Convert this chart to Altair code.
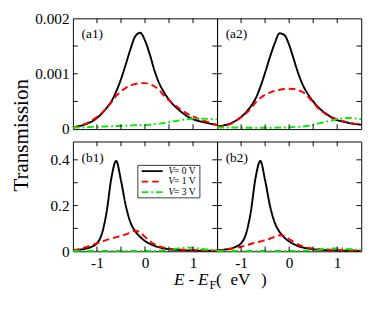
import altair as alt
import pandas as pd

# ---------------- data ----------------
E = [-1.5, -1.4, -1.3, -1.2, -1.1, -1.0, -0.9, -0.8, -0.7, -0.6, -0.5,
     -0.4, -0.3, -0.2, -0.1, 0.0, 0.1, 0.2, 0.3, 0.4, 0.5,
     0.6, 0.7, 0.8, 0.9, 1.0, 1.1, 1.2, 1.3, 1.4, 1.5]

SERIES = ["V = 0 V", "V = 1 V", "V = 3 V"]
COLORS = ["#000000", "#ff0000", "#00ee00"]
DASHES = [[1, 0], [7, 4], [7, 3, 2, 3]]

# panel (a1)
A1_V0 = [0.00003, 0.00005, 0.00007, 0.00010, 0.00014, 0.00020, 0.00028, 0.00038, 0.00050, 0.00068, 0.00090,
         0.00117, 0.00145, 0.00168, 0.00174, 0.00160, 0.00135, 0.00105, 0.00082, 0.00066, 0.00053,
         0.00043, 0.00035, 0.00028, 0.00022, 0.00018, 0.00015, 0.00013, 0.00011, 0.00009, 0.00008]
A1_V1 = [0.00003, 0.00005, 0.00008, 0.00011, 0.00016, 0.00022, 0.00029, 0.00038, 0.00048, 0.00060, 0.00068,
         0.000745, 0.00079, 0.000815, 0.00083, 0.00083, 0.00081, 0.00077, 0.00070, 0.00060, 0.00052,
         0.00045, 0.00038, 0.00032, 0.00027, 0.00023, 0.00019, 0.00016, 0.00013, 0.00010, 0.00007]
A1_V3 = [0.00003, 0.00003, 0.00003, 0.000035, 0.00004, 0.00004, 0.000045, 0.00005, 0.00005, 0.000055, 0.00006,
         0.00006, 0.000065, 0.00007, 0.00007, 0.000075, 0.00008, 0.00009, 0.00010, 0.00011, 0.000125,
         0.00014, 0.000155, 0.00017, 0.00018, 0.00019, 0.000195, 0.00019, 0.000185, 0.00018, 0.000175]

# panel (a2)
A2_V0 = [0.00005, 0.00006, 0.00008, 0.00011, 0.00016, 0.00022, 0.00030, 0.00041, 0.00055, 0.00076, 0.00102,
         0.00130, 0.00155, 0.00173, 0.00170, 0.00152, 0.00125, 0.00098, 0.00077, 0.00062, 0.00050,
         0.00040, 0.00032, 0.00026, 0.00020, 0.00016, 0.00014, 0.00012, 0.00010, 0.00009, 0.00008]
A2_V1 = [0.00004, 0.00005, 0.00007, 0.00010, 0.00015, 0.00021, 0.00028, 0.00037, 0.00048, 0.00056, 0.00062,
         0.00066, 0.00069, 0.00071, 0.000725, 0.00073, 0.000725, 0.00070, 0.00066, 0.00058, 0.00048,
         0.00038, 0.00031, 0.00025, 0.00021, 0.00018, 0.00015, 0.00013, 0.00011, 0.00009, 0.00007]
A2_V3 = [0.00003, 0.00003, 0.00003, 0.00003, 0.00003, 0.000025, 0.000025, 0.000025, 0.000025, 0.000025, 0.000025,
         0.000025, 0.000025, 0.00003, 0.00003, 0.00003, 0.00004, 0.00004, 0.00005, 0.00006, 0.00008,
         0.00010, 0.00012, 0.00014, 0.00016, 0.00018, 0.00019, 0.00020, 0.00020, 0.00019, 0.00018]

# panel (b1)
B1_V0 = [0.004, 0.006, 0.009, 0.013, 0.021, 0.035, 0.075, 0.17, 0.32, 0.395, 0.31,
         0.20, 0.125, 0.087, 0.063, 0.045, 0.033, 0.024, 0.017, 0.012, 0.009,
         0.007, 0.006, 0.005, 0.004, 0.004, 0.003, 0.003, 0.003, 0.002, 0.002]
B1_V1 = [0.003, 0.008, 0.014, 0.020, 0.028, 0.035, 0.042, 0.050, 0.056, 0.062, 0.068,
         0.074, 0.082, 0.090, 0.083, 0.063, 0.045, 0.030, 0.021, 0.016, 0.012,
         0.010, 0.008, 0.007, 0.006, 0.006, 0.005, 0.005, 0.004, 0.004, 0.003]
B1_V3 = [0.002, 0.002, 0.002, 0.002, 0.002, 0.002, 0.002, 0.002, 0.002, 0.002, 0.002,
         0.002, 0.002, 0.002, 0.002, 0.002, 0.002, 0.002, 0.003, 0.004, 0.007,
         0.010, 0.013, 0.015, 0.016, 0.015, 0.013, 0.010, 0.008, 0.006, 0.005]

# panel (b2)
B2_V0 = [0.004, 0.006, 0.009, 0.013, 0.021, 0.035, 0.075, 0.17, 0.32, 0.395, 0.31,
         0.20, 0.125, 0.085, 0.060, 0.043, 0.031, 0.022, 0.016, 0.012, 0.009,
         0.007, 0.006, 0.005, 0.004, 0.004, 0.003, 0.003, 0.003, 0.002, 0.002]
B2_V1 = [0.003, 0.005, 0.008, 0.011, 0.015, 0.020, 0.026, 0.032, 0.038, 0.043, 0.049,
         0.055, 0.063, 0.070, 0.066, 0.054, 0.040, 0.028, 0.020, 0.015, 0.012,
         0.010, 0.008, 0.007, 0.006, 0.006, 0.005, 0.005, 0.004, 0.004, 0.003]
B2_V3 = [0.002, 0.002, 0.002, 0.002, 0.002, 0.002, 0.002, 0.002, 0.002, 0.002, 0.002,
         0.002, 0.002, 0.002, 0.002, 0.002, 0.002, 0.002, 0.003, 0.004, 0.005,
         0.007, 0.009, 0.011, 0.012, 0.013, 0.013, 0.011, 0.009, 0.007, 0.005]

PANELS = {
    "a1": [A1_V0, A1_V1, A1_V3],
    "a2": [A2_V0, A2_V1, A2_V3],
    "b1": [B1_V0, B1_V1, B1_V3],
    "b2": [B2_V0, B2_V1, B2_V3],
}
PANEL_LABELS = {"a1": "(a1)", "a2": "(a2)", "b1": "(b1)", "b2": "(b2)"}

X_DOMAIN = [-1.5, 1.5]
X_LABELS = [-1, 0, 1]
X_TICKS = [-1, -0.5, 0, 0.5, 1]

TOP_DOMAIN = [0, 0.002]
TOP_LABELS = [0, 0.001, 0.002]
TOP_TICKS = [0.0005, 0.001, 0.0015]

BOT_DOMAIN = [0, 0.48]
BOT_LABELS = [0, 0.2, 0.4]
BOT_TICKS = [0.1, 0.2, 0.3, 0.4]

Y_TITLE = "Transmission"

# ---------------- layout / style ----------------
W = 151
H_TOP = 116
H_BOT = 115
FONT = "Liberation Serif"
TICK = 5

rows = []
for p, series_vals in PANELS.items():
    for s, vals in zip(SERIES, series_vals):
        for e, t in zip(E, vals):
            rows.append({"panel": p, "series": s, "E": e, "T": t})
df = pd.DataFrame(rows)


def panel(name, ydom, ylabels, yticks, H, show_x, show_y):
    d = df[df.panel == name]
    xs = alt.Scale(domain=X_DOMAIN, nice=False, zero=False)
    ys = alt.Scale(domain=ydom, nice=False, zero=False)
    xaxis = alt.Axis(values=X_LABELS, labelExpr="toString(datum.value)", ticks=False,
                     domain=False, grid=False, title=None, labelPadding=4) if show_x else None
    yaxis = alt.Axis(values=ylabels, labelExpr="toString(datum.value)", ticks=False,
                     domain=False, grid=False, title=None, labelPadding=4) if show_y else None

    lines = alt.Chart(d).mark_line(strokeWidth=2, interpolate="monotone").encode(
        x=alt.X("E:Q", scale=xs, axis=xaxis),
        y=alt.Y("T:Q", scale=ys, axis=yaxis),
        color=alt.Color("series:N", scale=alt.Scale(domain=SERIES, range=COLORS), legend=None),
        strokeDash=alt.StrokeDash("series:N", scale=alt.Scale(domain=SERIES, range=DASHES), legend=None),
        order=alt.Order("E:Q"),
    )
    xt = pd.DataFrame({"v": X_TICKS})
    yt = pd.DataFrame({"v": yticks})
    rule = dict(color="black", strokeWidth=1)
    tb = alt.Chart(xt).mark_rule(**rule).encode(
        x=alt.X("v:Q", scale=xs, axis=xaxis), y=alt.value(H), y2=alt.value(H - TICK))
    tt = alt.Chart(xt).mark_rule(**rule).encode(
        x=alt.X("v:Q", scale=xs, axis=xaxis), y=alt.value(0), y2=alt.value(TICK))
    tl = alt.Chart(yt).mark_rule(**rule).encode(
        y=alt.Y("v:Q", scale=ys, axis=yaxis), x=alt.value(0), x2=alt.value(TICK))
    tr = alt.Chart(yt).mark_rule(**rule).encode(
        y=alt.Y("v:Q", scale=ys, axis=yaxis), x=alt.value(W), x2=alt.value(W - TICK))
    lab = alt.Chart(pd.DataFrame({"t": [PANEL_LABELS[name]]})).mark_text(
        align="left", baseline="middle", font=FONT, fontSize=14, color="black"
    ).encode(text="t:N", x=alt.value(9), y=alt.value(17))
    layers = [lines, tb, tt, tl, tr, lab]
    return layers


def one(text, x, y, size, style="normal", align="left", baseline="alphabetic", angle=0):
    kw = dict(align=align, baseline=baseline, font=FONT, fontSize=size, color="black",
              fontStyle=style)
    if angle:
        kw["angle"] = angle
    return alt.Chart(pd.DataFrame({"t": [text]})).mark_text(**kw).encode(
        text="t:N", x=alt.value(x), y=alt.value(y))


# legend (inside b1)
def legend_layers():
    out = [alt.Chart(pd.DataFrame({"a": [0]})).mark_rect(
        fill="white", stroke="#333333", strokeWidth=1).encode(
        x=alt.value(68), x2=alt.value(133), y=alt.value(25), y2=alt.value(59))]
    for i, (s, c, dsh) in enumerate(zip(SERIES, COLORS, DASHES)):
        yy = 31 + 11 * i
        out.append(alt.Chart(pd.DataFrame({"a": [0]})).mark_rule(
            color=c, strokeWidth=2, strokeDash=dsh).encode(
            x=alt.value(72), x2=alt.value(94), y=alt.value(yy)))
        out.append(one(s[0], 100, yy, 10, style="italic", baseline="middle"))
        out.append(one(s[1:], 106, yy, 10, baseline="middle"))
    return out


a1 = alt.layer(*panel("a1", TOP_DOMAIN, TOP_LABELS, TOP_TICKS, H_TOP, False, True)).properties(width=W, height=H_TOP)
a2 = alt.layer(*panel("a2", TOP_DOMAIN, TOP_LABELS, TOP_TICKS, H_TOP, False, False)).properties(width=W, height=H_TOP)

b1_layers = panel("b1", BOT_DOMAIN, BOT_LABELS, BOT_TICKS, H_BOT, True, True)
b1_layers += legend_layers()
b1_layers.append(one(Y_TITLE, -54, -6.5, 22, align="center", baseline="middle", angle=270))
b1 = alt.layer(*b1_layers).properties(width=W, height=H_BOT)

b2_layers = panel("b2", BOT_DOMAIN, BOT_LABELS, BOT_TICKS, H_BOT, True, False)
ty = H_BOT + 35
b2_layers += [
    one("E", -45, ty, 18, style="italic"),
    one("-", -30, ty, 18),
    one("E", -20, ty, 18, style="italic"),
    one("F", -8, ty + 5, 13),
    one("(", -1, ty, 18),
    one("eV", 14, ty, 18),
    one(")", 46, ty, 18),
]
b2 = alt.layer(*b2_layers).properties(width=W, height=H_BOT)

chart = alt.concat(a1, a2, b1, b2, columns=2,
                   spacing=alt.RowColnumber(row=13, column=0),
                   bounds="flush").properties(
    padding={"left": 2, "top": -5, "right": 0, "bottom": -3}
).configure_view(stroke="black", strokeWidth=1).configure_axis(
    labelFont=FONT, labelFontSize=16, labelColor="black"
)

chart.save("out.html", embed_options={"renderer": "svg", "actions": False})
